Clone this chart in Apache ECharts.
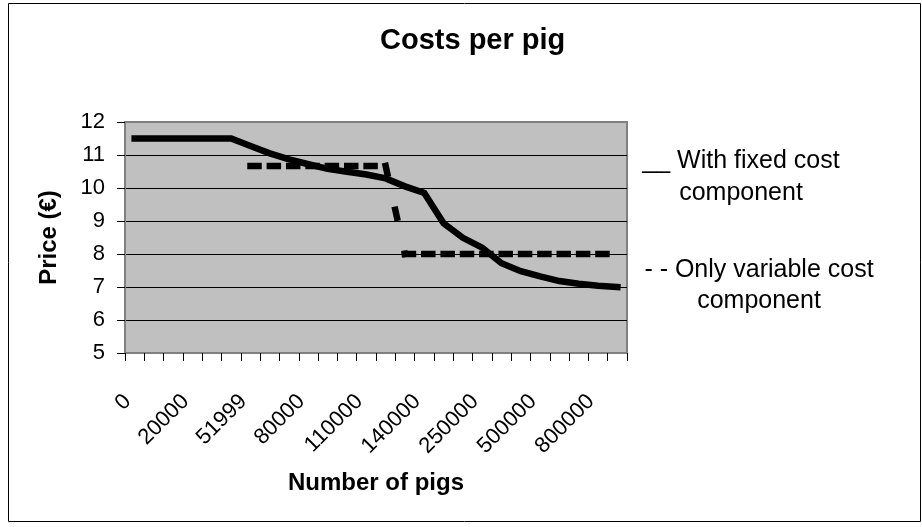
<!DOCTYPE html>
<html>
<head>
<meta charset="utf-8">
<title>Costs per pig</title>
<script src="https://cdn.jsdelivr.net/npm/echarts@6/dist/echarts.min.js"></script>
<style>
  html, body { margin: 0; padding: 0; background: #ffffff; }
  #chart { width: 922px; height: 527px; }
</style>
</head>
<body>
<div id="chart"></div>
<script>
// Herd size categories (number of pigs) on the horizontal axis
const herdSizes = ['0', '5000', '10000', '20000', '30000', '40000', '51999', '60000', '70000',
  '80000', '90000', '100000', '110000', '120000', '130000', '140000', '150000', '200000',
  '250000', '300000', '400000', '500000', '600000', '700000', '800000', '900000'];

// Price per pig (€) including the fixed cost component
const withFixedCost = [11.5, 11.5, 11.5, 11.5, 11.5, 11.5, 11.27, 11.05, 10.87, 10.72, 10.58,
  10.49, 10.41, 10.29, 10.05, 9.85, 8.93, 8.49, 8.19, 7.72, 7.48, 7.32, 7.18, 7.1, 7.04, 7.0];

// Price per pig (€) with only the variable cost component
const variableOnly = [null, null, null, null, null, null, 10.67, 10.67, 10.67, 10.67, 10.67,
  10.67, 10.67, 10.67, 8.0, 8.0, 8.0, 8.0, 8.0, 8.0, 8.0, 8.0, 8.0, 8.0, 8.0, 8.0];

// Price axis range
const priceMin = 5;
const priceMax = 12;
const priceStep = 1;

const FONT = '"Liberation Sans", Arial, sans-serif';

// Split the variable-cost curve into flat levels and the steps joining them,
// so every piece gets its own dash rhythm.
function variablePieces(values) {
  const pieces = [];
  let start = -1;
  for (let i = 0; i <= values.length; i++) {
    const v = i < values.length ? values[i] : null;
    const prev = i > 0 ? values[i - 1] : null;
    if (start >= 0 && (v === null || v !== prev)) {
      pieces.push({ kind: 'level', from: start, to: i - 1 });
      start = -1;
    }
    if (v !== null && start < 0) {
      if (prev !== null && prev !== undefined && prev !== v) {
        pieces.push({ kind: 'step', from: i - 1, to: i });
      }
      start = i;
    }
  }
  return pieces;
}

const dashedSeries = variablePieces(variableOnly).map(function (p) {
  return {
    type: 'line',
    data: variableOnly.map(function (v, i) { return (i >= p.from && i <= p.to) ? v : null; }),
    symbol: 'none',
    silent: true,
    lineStyle: {
      color: '#000000',
      width: 6.5,
      type: p.kind === 'level' ? [8, 11.35] : [8, 37],
      cap: 'square',
      join: 'miter'
    },
    z: 3
  };
});

const chart = echarts.init(document.getElementById('chart'), null, { renderer: 'canvas' });

chart.setOption({
  animation: false,
  title: {
    text: 'Costs per pig',
    left: 380,
    top: 26,
    padding: 0,
    textStyle: { fontFamily: FONT, fontSize: 29, fontWeight: 'bold', color: '#000000' }
  },
  grid: {
    left: 125,
    top: 122,
    width: 502,
    height: 231,
    show: true,
    backgroundColor: '#c0c0c0',
    borderColor: '#808080',
    borderWidth: 2
  },
  xAxis: {
    type: 'category',
    data: herdSizes,
    boundaryGap: true,
    name: 'Number of pigs',
    nameLocation: 'middle',
    nameGap: 118,
    nameTextStyle: { fontFamily: FONT, fontSize: 24, fontWeight: 'bold', color: '#000000' },
    axisLine: { lineStyle: { color: '#808080', width: 2 } },
    axisTick: { show: true, interval: 0, length: 8, lineStyle: { color: '#000000', width: 1 } },
    axisLabel: {
      interval: 2,
      rotate: 45,
      margin: 38,
      padding: [0, 10, 0, 0],
      fontFamily: FONT,
      fontSize: 22,
      color: '#000000'
    },
    splitLine: { show: false }
  },
  yAxis: {
    type: 'value',
    min: priceMin,
    max: priceMax,
    interval: priceStep,
    name: 'Price (€)',
    nameLocation: 'middle',
    nameGap: 64,
    nameTextStyle: { fontFamily: FONT, fontSize: 24, fontWeight: 'bold', color: '#000000' },
    axisLine: { show: true, lineStyle: { color: '#808080', width: 2 } },
    axisTick: { show: true, length: 8, lineStyle: { color: '#000000', width: 1 } },
    axisLabel: { margin: 20, fontFamily: FONT, fontSize: 22, color: '#000000' },
    splitLine: {
      show: true,
      showMinLine: false,
      showMaxLine: false,
      lineStyle: { color: '#000000', width: 1 }
    }
  },
  series: [{
    type: 'line',
    name: 'With fixed cost component',
    data: withFixedCost,
    symbol: 'none',
    silent: true,
    lineStyle: { color: '#000000', width: 6.5, type: 'solid', cap: 'square', join: 'miter' },
    z: 4
  }].concat(dashedSeries),
  graphic: [
    {
      type: 'rect',
      silent: true,
      shape: { x: 8.5, y: 3.5, width: 912, height: 518 },
      style: { fill: 'none', stroke: '#000000', lineWidth: 1 },
      z: 100
    },
    {
      type: 'text',
      silent: true,
      x: 741,
      y: 145.5,
      style: {
        text: '__ With fixed cost\ncomponent',
        font: '25px ' + FONT,
        fill: '#000000',
        align: 'center',
        verticalAlign: 'top',
        lineHeight: 31.7
      }
    },
    {
      type: 'text',
      silent: true,
      x: 759,
      y: 253.8,
      style: {
        text: '- - Only variable cost\ncomponent',
        font: '25px ' + FONT,
        fill: '#000000',
        align: 'center',
        verticalAlign: 'top',
        lineHeight: 31.7
      }
    }
  ]
});
</script>
</body>
</html>
